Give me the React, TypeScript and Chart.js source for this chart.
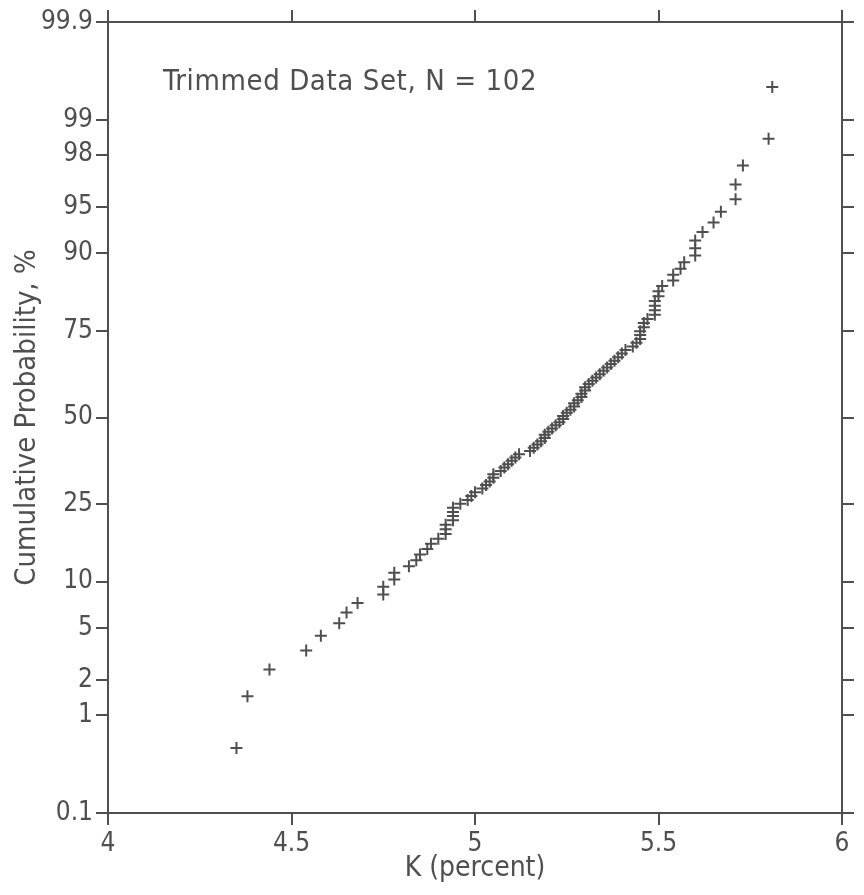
import React, { useEffect, useRef } from 'react';
import { Chart, registerables } from 'chart.js';

Chart.register(...registerables);

// K (percent), sorted, one value per rank
const kValues = [
  4.35, 4.38, 4.44, 4.54, 4.58, 4.63, 4.65, 4.68, 4.75, 4.75,
  4.78, 4.78, 4.82, 4.84, 4.85, 4.87, 4.88, 4.90, 4.92, 4.92,
  4.92, 4.94, 4.94, 4.94, 4.94, 4.96, 4.98, 4.99, 5.00, 5.02,
  5.03, 5.04, 5.05, 5.05, 5.07, 5.08, 5.09, 5.10, 5.11, 5.12,
  5.15, 5.16, 5.17, 5.18, 5.19, 5.19, 5.20, 5.21, 5.22, 5.23,
  5.24, 5.24, 5.25, 5.26, 5.27, 5.27, 5.28, 5.29, 5.29, 5.30,
  5.30, 5.31, 5.32, 5.33, 5.34, 5.35, 5.36, 5.37, 5.38, 5.39,
  5.40, 5.41, 5.43, 5.44, 5.45, 5.45, 5.45, 5.46, 5.46, 5.47,
  5.49, 5.49, 5.49, 5.49, 5.50, 5.50, 5.51, 5.54, 5.54, 5.56,
  5.57, 5.60, 5.60, 5.60, 5.62, 5.65, 5.67, 5.71, 5.71, 5.73,
  5.80, 5.81,
];

// Cumulative probability (%) of each point
const cumProb = [
  0.49, 1.47, 2.45, 3.43, 4.41, 5.39, 6.37, 7.35, 8.33, 9.31,
  10.29, 11.27, 12.25, 13.24, 14.22, 15.20, 16.18, 17.16, 18.14, 19.12,
  20.10, 21.08, 22.06, 23.04, 24.02, 25.00, 25.98, 26.96, 27.94, 28.92,
  29.90, 30.88, 31.86, 32.84, 33.82, 34.80, 35.78, 36.76, 37.75, 38.73,
  39.71, 40.69, 41.67, 42.65, 43.63, 44.61, 45.59, 46.57, 47.55, 48.53,
  49.51, 50.49, 51.47, 52.45, 53.43, 54.41, 55.39, 56.37, 57.35, 58.33,
  59.31, 60.29, 61.27, 62.25, 63.24, 64.22, 65.20, 66.18, 67.16, 68.14,
  69.12, 70.10, 71.08, 72.06, 73.04, 74.02, 75.00, 75.98, 76.96, 77.94,
  78.92, 79.90, 80.88, 81.86, 82.84, 83.82, 84.80, 85.78, 86.76, 87.75,
  88.73, 89.71, 90.69, 91.67, 92.65, 93.63, 94.61, 95.59, 96.57, 97.55,
  98.53, 99.51,
];

const probTicks = [0.1, 1, 2, 5, 10, 25, 50, 75, 90, 95, 98, 99, 99.9];
const probTickLabels = ['0.1', '1', '2', '5', '10', '25', '50', '75', '90', '95', '98', '99', '99.9'];
const kTicks = [4, 4.5, 5, 5.5, 6];
const kTickLabels = ['4', '4.5', '5', '5.5', '6'];

const annotationText = 'Trimmed Data Set, N = 102';
const xTitle = 'K (percent)';
const yTitle = 'Cumulative Probability, %';

// inverse standard normal CDF (probability scale transform)
function probit(pct: number): number {
  const p = pct / 100;
  const a = [-3.969683028665376e1, 2.209460984245205e2, -2.759285104469687e2, 1.38357751867269e2, -3.066479806614716e1, 2.506628277459239];
  const b = [-5.447609879822406e1, 1.615858368580409e2, -1.556989798598866e2, 6.680131188771972e1, -1.328068155288572e1];
  const c = [-7.784894002430293e-3, -3.223964580411365e-1, -2.400758277161838, -2.549732539343734, 4.374664141464968, 2.938163982698783];
  const d = [7.784695709041462e-3, 3.224671290700398e-1, 2.445134137142996, 3.754408661907416];
  const plow = 0.02425;
  if (p < plow) {
    const q = Math.sqrt(-2 * Math.log(p));
    return (((((c[0] * q + c[1]) * q + c[2]) * q + c[3]) * q + c[4]) * q + c[5]) /
      ((((d[0] * q + d[1]) * q + d[2]) * q + d[3]) * q + 1);
  }
  if (p > 1 - plow) {
    const q = Math.sqrt(-2 * Math.log(1 - p));
    return -(((((c[0] * q + c[1]) * q + c[2]) * q + c[3]) * q + c[4]) * q + c[5]) /
      ((((d[0] * q + d[1]) * q + d[2]) * q + d[3]) * q + 1);
  }
  const q = p - 0.5;
  const r = q * q;
  return (((((a[0] * r + a[1]) * r + a[2]) * r + a[3]) * r + a[4]) * r + a[5]) * q /
    (((((b[0] * r + b[1]) * r + b[2]) * r + b[3]) * r + b[4]) * r + 1);
}

const INK = '#4f4f4f';
const FONT = '"DejaVu Sans Condensed", "DejaVu Sans", sans-serif';

export default function App() {
  const ref = useRef<HTMLCanvasElement | null>(null);

  useEffect(() => {
    if (!ref.current) return;
    const zMin = probit(probTicks[0]);
    const zMax = probit(probTicks[probTicks.length - 1]);

    const grid = {
      drawOnChartArea: false,
      drawTicks: true,
      tickLength: 12,
      color: INK,
      lineWidth: 2,
    };
    const border = { display: true, color: INK, width: 2 };

    const yTickBuild = (scale: any) => {
      scale.ticks = probTicks.map((v) => ({ value: probit(v) }));
    };
    const xTickBuild = (scale: any) => {
      scale.ticks = kTicks.map((v) => ({ value: v }));
    };

    const annotationPlugin = {
      id: 'annotation',
      afterDraw(chart: any) {
        const ctx = chart.ctx;
        ctx.save();
        ctx.font = `29px ${FONT}`;
        try { (ctx as any).letterSpacing = '0.6px'; } catch (e) { /* ignore */ }
        ctx.fillStyle = INK;
        ctx.textAlign = 'left';
        ctx.textBaseline = 'alphabetic';
        ctx.fillText(annotationText, 163, 90);
        ctx.restore();
      },
    };

    const chart = new Chart(ref.current, {
      type: 'scatter',
      data: {
        datasets: [
          {
            data: kValues.map((k, i) => ({ x: k, y: probit(cumProb[i]) })),
            pointStyle: 'cross',
            pointRadius: 6,
            pointBorderWidth: 2,
            borderColor: INK,
            backgroundColor: INK,
          },
        ],
      },
      options: {
        animation: false,
        responsive: false,
        layout: { padding: 0 },
        plugins: { legend: { display: false }, tooltip: { enabled: false } },
        scales: {
          x: {
            type: 'linear',
            position: 'bottom',
            min: kTicks[0],
            max: kTicks[kTicks.length - 1],
            afterBuildTicks: xTickBuild,
            afterFit: (s: any) => { s.height = 82; },
            grid,
            border,
            ticks: {
              autoSkip: false,
              maxRotation: 0,
              padding: 4,
              color: INK,
              font: { family: FONT, size: 26 },
              callback: (_v: any, i: number) => kTickLabels[i],
            },
            title: {
              display: true,
              text: xTitle,
              color: INK,
              font: { family: FONT, size: 28 },
              padding: { top: 0, bottom: 9 },
            },
          },
          x2: {
            type: 'linear',
            position: 'top',
            min: kTicks[0],
            max: kTicks[kTicks.length - 1],
            afterBuildTicks: xTickBuild,
            afterFit: (s: any) => { s.height = 22; },
            grid,
            border,
            ticks: { display: false, autoSkip: false },
          },
          y: {
            type: 'linear',
            position: 'left',
            min: zMin,
            max: zMax,
            afterBuildTicks: yTickBuild,
            afterFit: (s: any) => { s.width = 108; },
            grid,
            border,
            ticks: {
              autoSkip: false,
              padding: 3,
              color: INK,
              font: { family: FONT, size: 26 },
              callback: (_v: any, i: number) => probTickLabels[i],
            },
            title: {
              display: true,
              text: yTitle,
              color: INK,
              font: { family: FONT, size: 29 },
              padding: { top: 10, bottom: 0 },
            },
          },
          y2: {
            type: 'linear',
            position: 'right',
            min: zMin,
            max: zMax,
            afterBuildTicks: yTickBuild,
            afterFit: (s: any) => { s.width = 22; },
            grid,
            border,
            ticks: { display: false, autoSkip: false },
          },
        },
      },
      plugins: [annotationPlugin],
    } as any);

    return () => chart.destroy();
  }, []);

  return (
    <div style={{ position: 'absolute', left: 0, top: 0, width: 864, height: 895, background: '#fff' }}>
      <canvas ref={ref} width={864} height={895} style={{ width: 864, height: 895, display: 'block' }} />
    </div>
  );
}
